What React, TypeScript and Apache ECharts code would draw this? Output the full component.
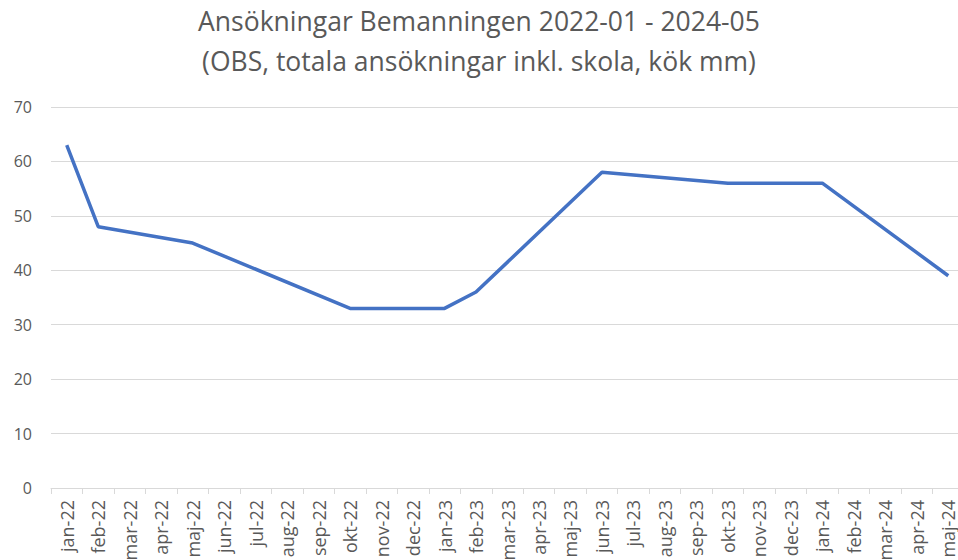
import React, { useEffect, useRef } from "react";
import * as echarts from "echarts";

const categories = [
  "jan-22", "feb-22", "mar-22", "apr-22", "maj-22", "jun-22", "jul-22", "aug-22", "sep-22", "okt-22",
  "nov-22", "dec-22", "jan-23", "feb-23", "mar-23", "apr-23", "maj-23", "jun-23", "jul-23", "aug-23",
  "sep-23", "okt-23", "nov-23", "dec-23", "jan-24", "feb-24", "mar-24", "apr-24", "maj-24",
];

const applications: (number | null)[] = [
  63, 48, null, null, 45, null, null, null, null, 33,
  null, null, 33, 36, null, null, null, 58, null, null,
  null, 56, null, null, 56, null, null, null, 39,
];

const titleLines = [
  "Ansökningar Bemanningen 2022-01 - 2024-05",
  "(OBS, totala ansökningar inkl. skola, kök mm)",
];

export default function App() {
  const ref = useRef<HTMLDivElement>(null);
  useEffect(() => {
    document.body.style.margin = "0";
    const chart = echarts.init(ref.current!, null, { renderer: "svg" });
    const font = "'Open Sans', 'Noto Sans', sans-serif";
    chart.setOption({
      animation: false,
      backgroundColor: "#ffffff",
      title: {
        text: titleLines.join("\n"),
        left: "center",
        top: 1,
        padding: 0,
        textStyle: {
          fontFamily: font,
          fontSize: 26.5,
          fontWeight: "normal",
          color: "#595959",
          lineHeight: 40,
        },
      },
      grid: {
        left: 51,
        top: 107,
        width: 913,
        height: 381,
        containLabel: false,
        outerBoundsMode: "none",
      },
      xAxis: {
        type: "category",
        data: categories,
        boundaryGap: true,
        axisLine: { lineStyle: { color: "#d9d9d9", width: 1 } },
        axisTick: { show: true, length: 6, lineStyle: { color: "#d9d9d9" } },
        axisLabel: {
          interval: 0,
          rotate: 90,
          margin: 12,
          fontFamily: font,
          fontSize: 18,
          color: "#595959",
        },
      },
      yAxis: {
        type: "value",
        min: 0,
        max: 70,
        interval: 10,
        axisLine: { show: false },
        axisTick: { show: false },
        splitLine: { lineStyle: { color: "#d9d9d9", width: 1 } },
        axisLabel: {
          margin: 19,
          fontFamily: font,
          fontSize: 16,
          color: "#595959",
        },
      },
      series: [
        {
          type: "line",
          data: applications,
          connectNulls: true,
          showSymbol: false,
          symbol: "none",
          lineStyle: { color: "#4472C4", width: 3.5 },
          itemStyle: { color: "#4472C4" },
        },
      ],
    });
    return () => chart.dispose();
  }, []);
  return <div ref={ref} style={{ width: 958, height: 560 }} />;
}
